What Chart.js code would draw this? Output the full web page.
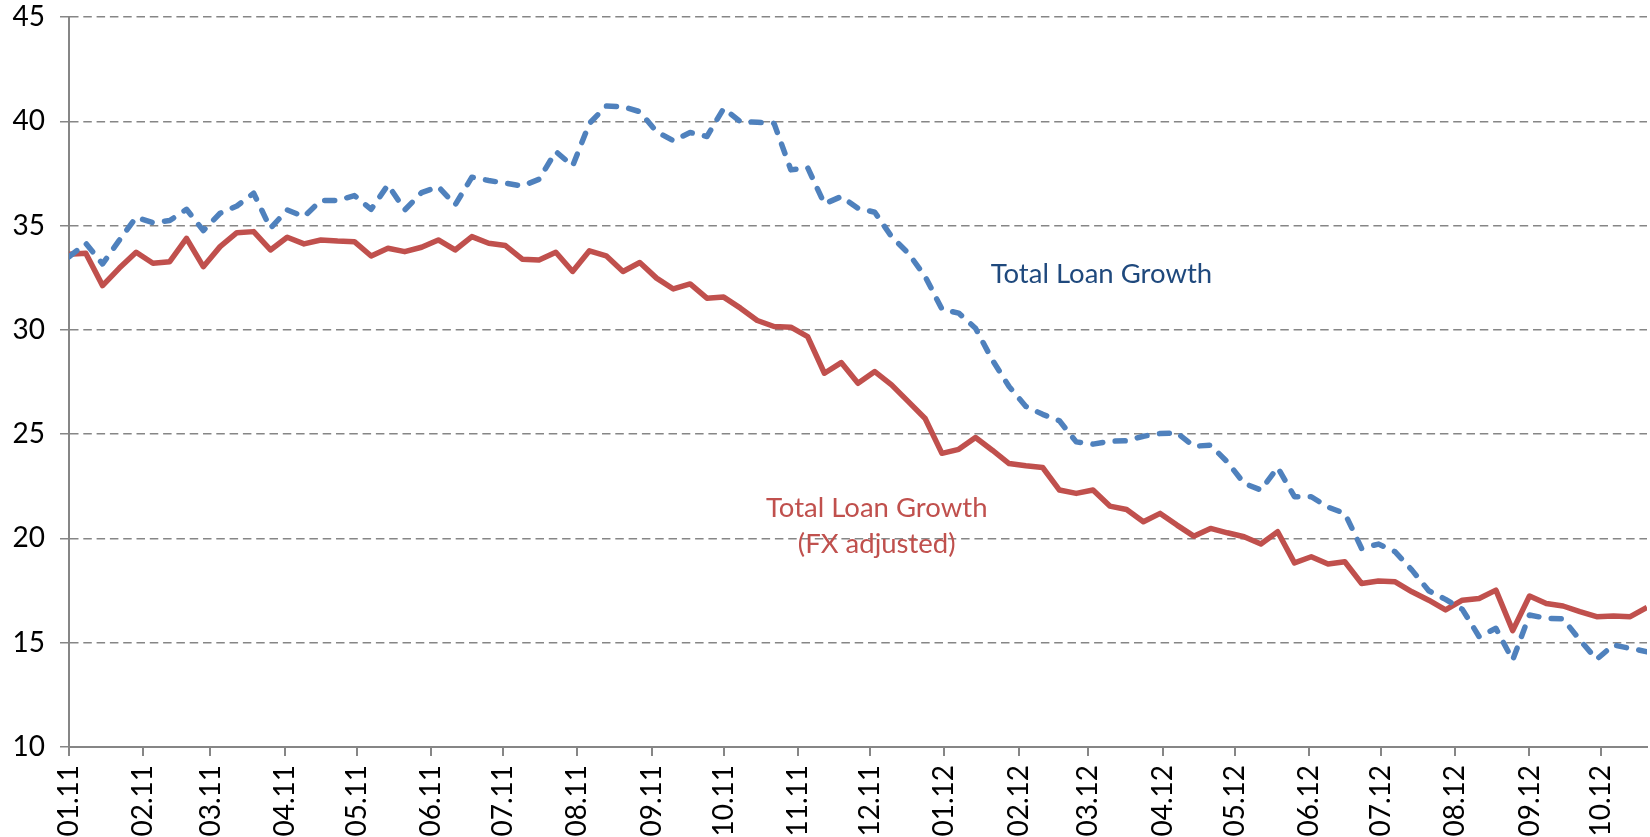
<!DOCTYPE html>
<html>
<head>
<meta charset="utf-8">
<title>Total Loan Growth</title>
<script src="https://cdn.jsdelivr.net/npm/chart.js@4.4.1/dist/chart.umd.min.js"></script>
<style>
  html, body { margin: 0; padding: 0; background: #fff; }
  #wrap { width: 1650px; height: 837px; }
</style>
</head>
<body>
<div id="wrap"><canvas id="myChart"></canvas></div>
<script>
// month ticks on the x axis (MM.YY)
const tickLabels = ['01.11', '02.11', '03.11', '04.11', '05.11', '06.11', '07.11', '08.11', '09.11', '10.11', '11.11',
    '12.11', '01.12', '02.12', '03.12', '04.12', '05.12', '06.12', '07.12', '08.12', '09.12', '10.12'];

// weekly observations, first week of 2011 onwards
const firstWeek = Date.UTC(2011, 0, 1);

const totalLoanGrowth = [
    33.5, 34.15, 33.16, 34.3, 35.4, 35.14, 35.24, 35.78, 34.76, 35.59,
    35.94, 36.55, 34.87, 35.75, 35.43, 36.2, 36.2, 36.44, 35.78, 36.95,
    35.75, 36.58, 36.87, 35.99, 37.32, 37.16, 37.03, 36.9, 37.22, 38.55,
    37.86, 39.9, 40.73, 40.7, 40.46, 39.5, 39.07, 39.46, 39.27, 40.62,
    39.98, 39.95, 39.9, 37.67, 37.78, 36.04, 36.39, 35.83, 35.64, 34.47,
    33.67, 32.56, 30.99, 30.8, 30.08, 28.56, 27.28, 26.33, 25.95, 25.64,
    24.63, 24.52, 24.66, 24.68, 24.9, 25.03, 25.06, 24.42, 24.47, 23.67,
    22.64, 22.32, 23.4, 22.0, 22.0, 21.5, 21.2, 19.52, 19.73, 19.36,
    18.48, 17.49, 17.08, 16.6, 15.29, 15.69, 14.17, 16.33, 16.17, 16.15,
    15.13, 14.2, 14.89, 14.73, 14.57
];

const fxAdjustedGrowth = [
    33.63, 33.67, 32.12, 32.96, 33.72, 33.19, 33.27, 34.39, 33.03, 33.99,
    34.66, 34.71, 33.83, 34.44, 34.12, 34.31, 34.26, 34.23, 33.54, 33.91,
    33.75, 33.96, 34.31, 33.83, 34.47, 34.15, 34.04, 33.39, 33.35, 33.72,
    32.8, 33.79, 33.55, 32.8, 33.23, 32.48, 31.96, 32.2, 31.52, 31.57,
    31.04, 30.45, 30.16, 30.13, 29.68, 27.92, 28.43, 27.44, 28.0, 27.36,
    26.56, 25.75, 24.08, 24.27, 24.84, 24.23, 23.59, 23.48, 23.4, 22.32,
    22.16, 22.32, 21.55, 21.39, 20.8, 21.2, 20.64, 20.11, 20.48, 20.27,
    20.08, 19.73, 20.32, 18.83, 19.12, 18.77, 18.88, 17.84, 17.96, 17.92,
    17.44, 17.04, 16.57, 17.04, 17.12, 17.52, 15.58, 17.24, 16.88, 16.76,
    16.49, 16.25, 16.28, 16.25, 16.69
];

const DAY = 86400000;
const weekDays = totalLoanGrowth.map((v, i) => i * 7);
const tickDays = tickLabels.map(lbl => {
    const [mm, yy] = lbl.split('.').map(Number);
    return (Date.UTC(2000 + yy, mm - 1, 1) - firstWeek) / DAY;
});

const gridGrey = '#868686';
const blue = '#4F81BD';
const red = '#C0504D';

// text labels placed next to the lines, in data units
const notes = [
    { text: 'Total Loan Growth', day: 430.5, value: 32.27, color: '#1F497D' },
    { text: 'Total Loan Growth', day: 336.8, value: 21.02, color: red },
    { text: '(FX adjusted)', day: 336.8, value: 19.31, color: red }
];

const notesPlugin = {
    id: 'notes',
    afterDatasetsDraw(chart) {
        const { ctx, scales: { x, y } } = chart;
        ctx.save();
        ctx.font = '27.5px Lato';
        ctx.textAlign = 'center';
        ctx.textBaseline = 'alphabetic';
        notes.forEach(n => {
            ctx.fillStyle = n.color;
            ctx.fillText(n.text, x.getPixelForValue(n.day), y.getPixelForValue(n.value));
        });
        ctx.restore();
    }
};

Chart.defaults.font.family = 'Lato';
Chart.defaults.font.size = 28;
Chart.defaults.color = '#000';

const ctx = document.getElementById('myChart').getContext('2d');
const myChart = new Chart(ctx, {
    type: 'line',
    data: {
        datasets: [
            {
                label: 'Total Loan Growth',
                data: weekDays.map((d, i) => ({ x: d, y: totalLoanGrowth[i] })),
                borderColor: blue,
                borderWidth: 5.5,
                borderDash: [10, 12.5],
                borderCapStyle: 'round',
                borderJoinStyle: 'round',
                pointRadius: 0,
                fill: false,
                tension: 0
            },
            {
                label: 'Total Loan Growth (FX adjusted)',
                data: weekDays.map((d, i) => ({ x: d, y: fxAdjustedGrowth[i] })),
                borderColor: red,
                borderWidth: 5.5,
                borderJoinStyle: 'round',
                pointRadius: 0,
                fill: false,
                tension: 0
            }
        ]
    },
    options: {
        responsive: true,
        maintainAspectRatio: false,
        animation: false,
        layout: { padding: { top: 17, right: 3, left: 0, bottom: 0 } },
        plugins: {
            legend: { display: false },
            tooltip: { enabled: false }
        },
        scales: {
            x: {
                type: 'linear',
                min: 0,
                max: weekDays[weekDays.length - 1],
                afterBuildTicks: axis => {
                    axis.ticks = tickDays.map(v => ({ value: v }));
                },
                afterFit: axis => { axis.height = 90; },
                ticks: {
                    autoSkip: false,
                    maxRotation: 90,
                    minRotation: 90,
                    padding: 9,
                    callback: (value, index) => tickLabels[index]
                },
                grid: {
                    drawOnChartArea: false,
                    drawTicks: true,
                    tickLength: 9,
                    color: gridGrey,
                    lineWidth: 2
                },
                border: { display: true, color: gridGrey, width: 2 }
            },
            y: {
                min: 10,
                max: 45,
                afterFit: axis => {
                    axis.width = 69;
                    // the label padding should not push the plot area down
                    axis.paddingTop = 0;
                    axis.paddingBottom = 0;
                },
                ticks: { stepSize: 5, padding: 15 },
                grid: {
                    color: gridGrey,
                    lineWidth: 1.5,
                    tickLength: 9,
                    tickBorderDash: [],
                    tickWidth: 1.5
                },
                border: { display: true, color: gridGrey, width: 2, dash: [8.5, 4.8] }
            }
        }
    },
    plugins: [notesPlugin]
});
</script>
</body>
</html>
